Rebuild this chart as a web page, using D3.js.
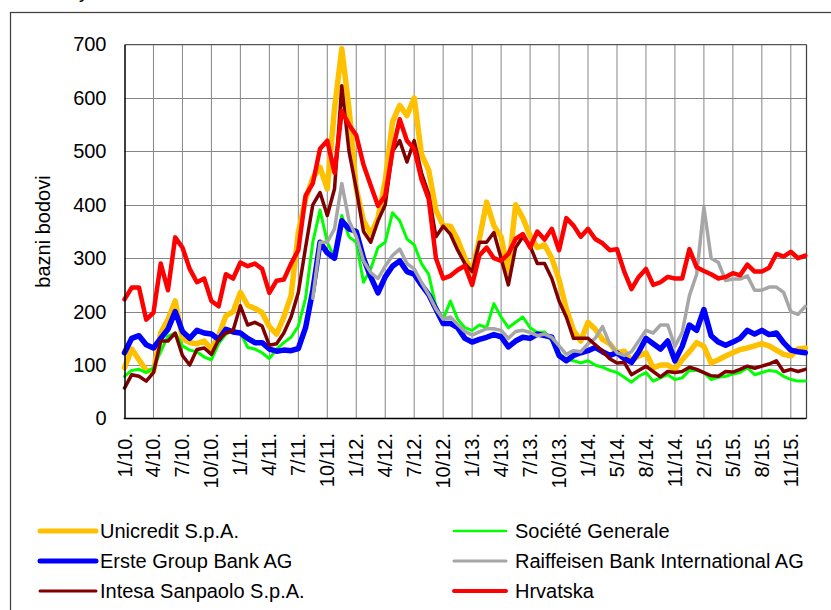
<!DOCTYPE html>
<html>
<head>
<meta charset="utf-8">
<script src="https://cdn.jsdelivr.net/npm/d3@7"></script>
<style>
  body { margin: 0; background: #fff; }
  svg { display: block; font-family: "Liberation Sans", Arial, sans-serif; }
</style>
</head>
<body>
<div id="chart"></div>
<script>
// x positions: quarter steps between the axis labels
const steps = d3.range(95).map(i => i / 4);

const tickLabels = ["1/10.", "4/10.", "7/10.", "10/10.", "1/11.", "4/11.", "7/11.", "10/11.",
  "1/12.", "4/12.", "7/12.", "10/12.", "1/13.", "4/13.", "7/13.", "10/13.",
  "1/14.", "5/14.", "8/14.", "11/14.", "2/15.", "5/15.", "8/15.", "11/15."];

const yTicks = [0, 100, 200, 300, 400, 500, 600, 700];

const unicredit = [95, 130, 110, 90, 88, 160, 185, 220, 150, 142, 140, 145, 130, 155, 192, 200, 236, 212, 206,
  198, 172, 158, 190, 230, 348, 411, 450, 470, 430, 580, 692, 580, 430, 370, 345, 375, 445, 555,
  586, 567, 600, 495, 465, 390, 361, 360, 335, 300, 275, 336, 405, 361, 340, 273, 400, 375, 342,
  320, 325, 300, 260, 205, 165, 145, 180, 167, 148, 140, 123, 126, 108, 117, 123, 95, 100,
  100, 92, 110, 125, 142, 135, 104, 110, 117, 123, 129, 132, 136, 140, 136, 128, 120, 117, 130, 132];

const socGen = [79, 90, 92, 86, 95, 125, 154, 160, 136, 128, 125, 115, 110, 140, 158, 165, 161, 133, 130,
  123, 112, 130, 142, 152, 173, 225, 330, 390, 330, 300, 380, 340, 330, 255, 280, 320, 330, 385,
  370, 336, 325, 290, 270, 210, 186, 220, 186, 170, 165, 175, 170, 215, 190, 170, 180, 190, 170,
  161, 162, 145, 123, 110, 108, 104, 108, 100, 96, 90, 86, 77, 68, 79, 86, 70, 76,
  82, 73, 76, 90, 90, 86, 73, 77, 79, 83, 86, 95, 82, 86, 90, 88, 79, 73, 70, 70];

const erste = [123, 150, 155, 138, 132, 150, 167, 200, 163, 150, 165, 160, 158, 148, 167, 162, 160, 150, 142,
  142, 130, 126, 128, 127, 131, 170, 240, 330, 310, 300, 370, 355, 350, 300, 265, 235, 265, 285,
  295, 275, 270, 250, 232, 205, 178, 178, 170, 150, 143, 148, 152, 157, 153, 134, 145, 152, 150,
  158, 155, 152, 118, 108, 118, 123, 127, 133, 125, 118, 123, 112, 105, 125, 150, 140, 130,
  145, 108, 135, 175, 165, 204, 155, 143, 137, 143, 150, 165, 158, 165, 157, 160, 142, 128, 125, 123];

const raiffeisen = [null, null, null, null, null, null, null, null, null, null, null, null, null,
  null, null, null, null, null, null, null, null, null, null, null, null, null,
  225, 330, 330, 355, 440, 370, 340, 295, 273, 262, 285, 305,
  317, 290, 280, 255, 232, 205, 186, 190, 176, 163, 156, 162, 168, 168, 165, 150, 163, 165, 161,
  155, 158, 152, 136, 120, 127, 125, 140, 150, 172, 140, 123, 118, 125, 145, 165, 160, 175,
  175, 135, 161, 230, 270, 395, 300, 292, 258, 261, 261, 267, 240, 240, 246, 246, 236, 200, 195, 210];

const intesa = [57, 82, 79, 70, 86, 145, 145, 160, 118, 100, 129, 132, 120, 148, 160, 165, 211, 175, 180,
  173, 137, 140, 160, 190, 236, 320, 400, 423, 380, 430, 623, 500, 430, 350, 330, 370, 400, 500,
  520, 480, 520, 460, 420, 340, 360, 345, 315, 290, 275, 330, 330, 348, 300, 250, 320, 340, 323,
  290, 290, 262, 220, 190, 150, 150, 150, 138, 126, 112, 104, 105, 82, 90, 98, 88, 78,
  88, 86, 88, 96, 92, 86, 80, 79, 88, 87, 92, 98, 94, 98, 102, 108, 88, 92, 88, 92];

const hrvatska = [223, 245, 245, 185, 198, 290, 240, 339, 320, 280, 255, 262, 220, 210, 270, 262, 292, 285, 290,
  280, 235, 258, 260, 290, 315, 417, 440, 505, 520, 460, 575, 550, 530, 475, 436, 398, 417, 500,
  560, 520, 505, 448, 411, 300, 262, 267, 278, 286, 250, 305, 320, 300, 295, 308, 336, 345, 320,
  350, 335, 355, 315, 375, 361, 340, 355, 336, 328, 315, 317, 275, 242, 265, 280, 250, 255,
  265, 262, 262, 317, 283, 276, 270, 262, 265, 272, 268, 288, 275, 275, 282, 308, 303, 312, 300, 305];

const seriesNames = ["Unicredit S.p.A.", "Société Generale", "Erste Group Bank AG",
  "Raiffeisen Bank International AG", "Intesa Sanpaolo S.p.A.", "Hrvatska"];
const seriesValues = [unicredit, socGen, erste, raiffeisen, intesa, hrvatska];
const seriesColors = ["#FFC000", "#00FF00", "#0000FF", "#A6A6A6", "#800000", "#FF0000"];
const seriesWidths = [5.5, 3, 5.5, 3.5, 3.5, 4.5];

const W = 831, H = 610;
const plotLeft = 124.5, plotRight = 806.5, plotTop = 44.5, plotBottom = 418.5;

const svg = d3.select("#chart").append("svg")
  .attr("width", W)
  .attr("height", H);

svg.append("rect").attr("width", W).attr("height", H).attr("fill", "#fff");

// clipped title above the frame
svg.append("text")
  .attr("x", 79)
  .attr("y", -2)
  .attr("font-size", 20)
  .text("y");

// outer frame
svg.append("rect")
  .attr("x", 10.5).attr("y", 12.5)
  .attr("width", 900).attr("height", 700)
  .attr("fill", "none")
  .attr("stroke", "#404040")
  .attr("stroke-width", 1.25);

const x = d3.scaleLinear().domain([0, (plotRight - plotLeft) / 28.97]).range([plotLeft, plotRight]);
const y = d3.scaleLinear().domain([0, 700]).range([plotBottom, plotTop]);

// grid
svg.append("g")
  .selectAll("line")
  .data(yTicks.filter(d => d > 0 && d < 700))
  .join("line")
  .attr("x1", plotLeft).attr("x2", plotRight)
  .attr("y1", d => Math.round(y(d)) + 0.5).attr("y2", d => Math.round(y(d)) + 0.5)
  .attr("stroke", "#868686")
  .attr("stroke-width", 1);

svg.append("g")
  .selectAll("line")
  .data(d3.range(1, tickLabels.length))
  .join("line")
  .attr("x1", d => x(d)).attr("x2", d => x(d))
  .attr("y1", plotTop).attr("y2", plotBottom)
  .attr("stroke", "#868686")
  .attr("stroke-width", 1);

// plot border (top and right)
svg.append("line")
  .attr("x1", plotLeft).attr("x2", plotRight)
  .attr("y1", plotTop).attr("y2", plotTop)
  .attr("stroke", "#555").attr("stroke-width", 1.25);
svg.append("line")
  .attr("x1", plotRight).attr("x2", plotRight).attr("y1", plotTop).attr("y2", plotBottom)
  .attr("stroke", "#404040").attr("stroke-width", 1.25);

// series lines
const line = d3.line()
  .defined(d => d[1] != null)
  .x(d => x(d[0]))
  .y(d => y(d[1]));

seriesValues.forEach((vals, i) => {
  svg.append("path")
    .datum(steps.map((t, j) => [t, vals[j]]))
    .attr("fill", "none")
    .attr("stroke", seriesColors[i])
    .attr("stroke-width", seriesWidths[i])
    .attr("stroke-linejoin", "round")
    .attr("stroke-linecap", "round")
    .attr("d", line);
});

// y axis
const yAxis = svg.append("g")
  .attr("transform", `translate(${plotLeft},0)`)
  .call(d3.axisLeft(y).tickValues(yTicks).tickSize(0).tickPadding(18));
yAxis.select(".domain").attr("stroke", "#000").attr("stroke-width", 1.5);
yAxis.selectAll("text")
  .attr("font-size", 20)
  .attr("font-family", "Liberation Sans, Arial, sans-serif")
  .attr("fill", "#000");

// x axis line
svg.append("line")
  .attr("x1", plotLeft - 0.75).attr("x2", plotRight)
  .attr("y1", plotBottom).attr("y2", plotBottom)
  .attr("stroke", "#000").attr("stroke-width", 1.5);

// x tick labels
svg.append("g")
  .selectAll("text")
  .data(tickLabels)
  .join("text")
  .attr("transform", (d, i) => `translate(${x(i)},433) rotate(-90)`)
  .attr("text-anchor", "end")
  .attr("dy", "0.35em")
  .attr("font-size", 20)
  .text(d => d);

// y axis title
svg.append("text")
  .attr("transform", `translate(50,${(plotTop + plotBottom) / 2}) rotate(-90)`)
  .attr("text-anchor", "middle")
  .attr("font-size", 20)
  .text("bazni bodovi");

// legend, two columns filled row by row
const legend = svg.append("g");
seriesNames.forEach((name, i) => {
  const col = i % 2, row = Math.floor(i / 2);
  const lx = col === 0 ? 40 : 454;
  const ly = 531 + row * 30;
  legend.append("line")
    .attr("x1", lx).attr("x2", lx + (col === 0 ? 56 : 52))
    .attr("y1", ly).attr("y2", ly)
    .attr("stroke", seriesColors[i])
    .attr("stroke-width", seriesWidths[i] - 0.5)
    .attr("stroke-linecap", "round");
  legend.append("text")
    .attr("x", col === 0 ? 100 : 515)
    .attr("y", ly)
    .attr("dy", "0.35em")
    .attr("font-size", 20)
    .text(name);
});
</script>
</body>
</html>
